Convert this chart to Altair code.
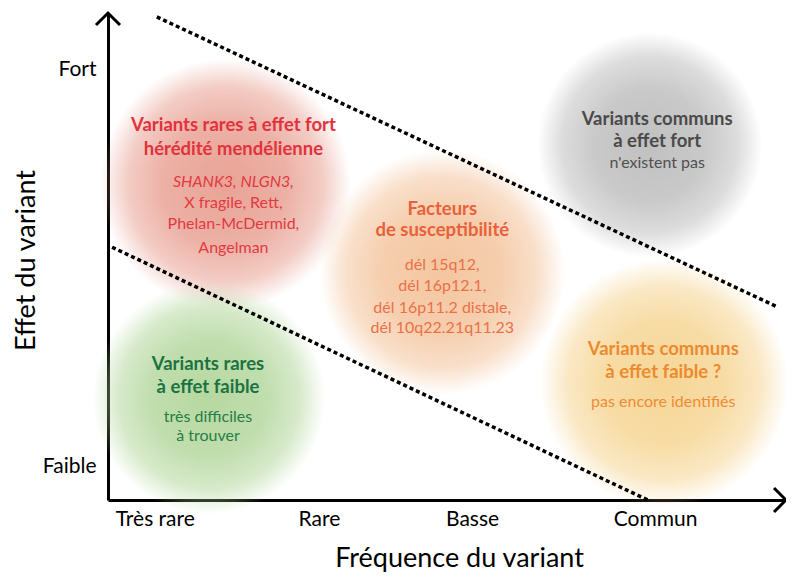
import altair as alt
import pandas as pd

# ---------------- data ----------------
x_tick_labels = ["Très rare", "Rare", "Basse", "Commun"]
x_tick_values = [6.9, 31.1, 53.7, 80.7]
y_tick_labels = ["Faible", "Fort"]
y_tick_values = [6.8, 88.3]

circle_names = ["rares_fort", "facteurs", "communs_fort", "communs_faible", "rares_faible"]
circle_x = [17.3, 49.3, 79.9, 82.0, 14.9]
circle_y = [64.9, 46.8, 72.9, 24.0, 20.9]

line_ids = ["haut", "haut", "bas", "bas"]
line_x = [7.2, 98.8, 0.6, 79.6]
line_y = [99.2, 39.6, 51.9, 0.0]

text_lines = [
    "Variants rares à effet fort", "hérédité mendélienne",
    "SHANK3, NLGN3,", "X fragile, Rett,", "Phelan-McDermid,", "Angelman",
    "Facteurs", "de susceptibilité",
    "dél 15q12,", "dél 16p12.1,", "dél 16p11.2 distale,", "dél 10q22.21q11.23",
    "Variants communs", "à effet fort", "n'existent pas",
    "Variants communs", "à effet faible ?", "pas encore identifiés",
    "Variants rares", "à effet faible", "très difficiles", "à trouver",
]
text_group = (["rares_fort"] * 6 + ["facteurs"] * 6 + ["communs_fort"] * 3
              + ["communs_faible"] * 3 + ["rares_faible"] * 4)
text_kind = ["titre", "titre", "ital", "sous", "sous", "sous",
             "titre", "titre", "sous", "sous", "sous", "sous",
             "titre", "titre", "sous",
             "titre", "titre", "sous",
             "titre", "titre", "sous", "sous"]
text_x = [18.5] * 6 + [49.3] * 6 + [81.0] * 3 + [81.9] * 3 + [14.75] * 4
text_y = [76.9, 72.0, 65.3, 61.0, 56.7, 51.7,
          59.85, 55.5, 48.25, 43.9, 39.4, 35.3,
          78.3, 73.8, 69.2,
          31.1, 26.2, 20.1,
          28.0, 23.3, 17.0, 13.1]

arrow_x = [0, 100]
arrow_y = [100, 0]
arrow_angle = [0, 90]

# ---------------- styles ----------------
FONT = "Lato"
text_colors = {
    "rares_fort|titre": "#e2323c", "rares_fort|sous": "#e23a40", "rares_fort|ital": "#e23a40",
    "facteurs|titre": "#e8613a", "facteurs|sous": "#eb7048",
    "communs_fort|titre": "#4a4a4a", "communs_fort|sous": "#505050",
    "communs_faible|titre": "#ec8a30", "communs_faible|sous": "#ef8c35",
    "rares_faible|titre": "#1a7340", "rares_faible|sous": "#267d45",
}
circle_style = {
    "rares_fort": ((233, 163, 150), 250),
    "facteurs": ((244, 198, 160), 245),
    "communs_fort": ((192, 192, 192), 225),
    "communs_faible": ((246, 214, 150), 248),
    "rares_faible": ((182, 216, 160), 232),
}

circles = pd.DataFrame({"name": circle_names, "x": circle_x, "y": circle_y})
lines = pd.DataFrame({"id": line_ids, "x": line_x, "y": line_y})
texts = pd.DataFrame({"text": text_lines, "group": text_group, "kind": text_kind,
                      "x": text_x, "y": text_y})
texts["key"] = texts["group"] + "|" + texts["kind"]
arrows = pd.DataFrame({"x": arrow_x, "y": arrow_y, "angle": arrow_angle})

xs = alt.Scale(domain=[0, 100], nice=False, zero=False)
ys = alt.Scale(domain=[0, 100], nice=False, zero=False)

x_expr = "[" + ",".join(repr(l) for l in x_tick_labels) + "][indexof([" + \
    ",".join(str(v) for v in x_tick_values) + "], datum.value)]"
y_expr = "[" + ",".join(repr(l) for l in y_tick_labels) + "][indexof([" + \
    ",".join(str(v) for v in y_tick_values) + "], datum.value)]"

x_axis = alt.Axis(values=x_tick_values, labelExpr=x_expr, ticks=False, grid=False,
                  domainColor="black", domainWidth=3, labelFont=FONT, labelFontSize=21,
                  labelColor="black", labelPadding=8, title="Fréquence du variant",
                  titleFont=FONT, titleFontSize=27, titleFontWeight="normal",
                  titleColor="black", titleX=351, titleY=58, titleBaseline="middle",
                  titleAnchor="middle")
y_axis = alt.Axis(values=y_tick_values, labelExpr=y_expr, ticks=False, grid=False,
                  domainColor="black", domainWidth=3, labelFont=FONT, labelFontSize=21,
                  labelColor="black", labelPadding=12, title="Effet du variant",
                  titleFont=FONT, titleFontSize=27, titleFontWeight="normal",
                  titleColor="black", titleX=-82, titleY=247, titleBaseline="middle",
                  titleAngle=-90, titleAnchor="middle")

base_x = alt.X("x:Q", scale=xs, axis=x_axis)
base_y = alt.Y("y:Q", scale=ys, axis=y_axis)

layers = []
for name in circle_names:
    (r, g, b), d = circle_style[name]
    grad = {
        "gradient": "radial", "x1": 0.5, "y1": 0.5, "r1": 0, "x2": 0.5, "y2": 0.5, "r2": 0.5,
        "stops": [
            {"offset": 0, "color": f"rgba({r},{g},{b},1)"},
            {"offset": 0.5, "color": f"rgba({r},{g},{b},0.85)"},
            {"offset": 0.78, "color": f"rgba({r},{g},{b},0.55)"},
            {"offset": 0.92, "color": f"rgba({r},{g},{b},0.2)"},
            {"offset": 1, "color": f"rgba({r},{g},{b},0)"},
        ],
    }
    layers.append(
        alt.Chart(circles).mark_circle(fill=grad, opacity=1, size=d * d, strokeWidth=0)
        .encode(x=base_x, y=base_y)
        .transform_filter(alt.datum.name == name)
    )

layers.append(
    alt.Chart(lines).mark_line(color="black", strokeWidth=3.5, strokeDash=[4, 3])
    .encode(x=base_x, y=base_y, detail="id:N")
)

color_enc = alt.Color("key:N", scale=alt.Scale(domain=list(text_colors.keys()),
                                               range=list(text_colors.values())), legend=None)
for kind, size, weight, style in [("titre", 18.5, "bold", "normal"),
                                  ("sous", 16, "normal", "normal"),
                                  ("ital", 16, "normal", "italic")]:
    layers.append(
        alt.Chart(texts).mark_text(font=FONT, fontSize=size, fontWeight=weight,
                                   fontStyle=style, align="center", baseline="middle")
        .encode(x=base_x, y=base_y, text="text:N", color=color_enc)
        .transform_filter(alt.datum.kind == kind)
    )

layers.append(
    alt.Chart(arrows).mark_point(shape="M-1,1L0,0L1,1", filled=False, color="black",
                                 strokeWidth=3, size=576, opacity=1)
    .encode(x=base_x, y=base_y, angle=alt.Angle("angle:Q", scale=None))
)

chart = alt.layer(*layers).properties(
    width=678, height=487,
    padding={"left": 100, "top": 5, "right": 0, "bottom": 73},
    autosize=alt.AutoSizeParams(type="none"),
    background="white",
).configure_view(stroke=None)

chart.save("out.html", embed_options={"renderer": "svg", "actions": False})
